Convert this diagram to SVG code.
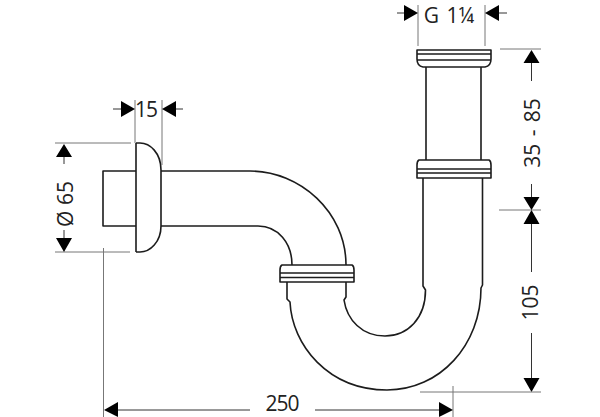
<svg xmlns="http://www.w3.org/2000/svg" width="600" height="417" viewBox="0 0 600 417">
<defs>
<style>
.p{fill:none;stroke:#1c1c1c;stroke-width:1.6;stroke-linejoin:round}
.d{fill:none;stroke:#333;stroke-width:1}
.e{fill:none;stroke:#777;stroke-width:1}
.a{fill:#000}
text{font-family:"Open Sans","Noto Sans",sans-serif;font-size:21px;fill:#222;text-anchor:middle}
</style>
</defs>
<rect width="600" height="417" fill="#fff"/>
<g id="trap">
<path class="p" d="M136 143V252M136 143H140C150 143 161 153 161 170V226C161 242 150 252 140 252H136"/>
<path class="p" d="M136 171H103V226H136"/>
<path class="p" d="M161 171H250C300 171 346 212 346 265"/>
<path class="p" d="M161 226H258C278 226 292 243 292 265"/>
<path class="p" d="M282 265H352Q354 266 354 270V282H280V270Q280 266 282 265ZM280 273H354M280 277.500H354"/>
<path class="p" d="M287 282V299L290 302C292 345 328 390 387 390C440 390 481 345 481 288L482.500 285V178"/>
<path class="p" d="M346 282V297L344 300C347 320 362 336 385 336C408 336 425.500 318 425.500 290L423 286V178"/>
<path class="p" d="M419 160H489Q491 161 491 165V178H417V165Q417 161 419 160ZM417 169H491M417 173H491"/>
<path class="p" d="M426 67V160M481 67V160"/>
<path class="p" d="M417 50H491V59Q491 66 485 67H423Q417 66 417 59ZM417 54H491M417 60H491"/>
</g>
<g id="dim-g">
<path class="e" d="M418 5V46M485 5V46"/>
<path class="d" d="M397 13H405M499 13H507"/>
<path class="a" d="M418 13L404 5V21ZM485 13L499 5V21Z"/>
<text x="449" y="23" word-spacing="2">G 1¼</text>
</g>
<g id="dim-15">
<path class="e" d="M135 100V143M162 100V165"/>
<path class="d" d="M113 109H121M176 109H183"/>
<path class="a" d="M135 109L121 101V117ZM162 109L176 101V117Z"/>
<text x="146" y="117" letter-spacing="-1">15</text>
</g>
<g id="dim-65">
<path class="e" d="M55 143H131M55 252H130"/>
<path class="d" d="M64 157V164M64 230V238"/>
<path class="a" d="M64 144L56 157H72ZM64 252L56 238H72Z"/>
<text transform="translate(73 204) rotate(-90)">Ø 65</text>
</g>
<g id="dim-35">
<path class="e" d="M500 49H541M499 210H541"/>
<path class="d" d="M531.500 63V81M531.500 184V198"/>
<path class="a" d="M531.500 50L523.500 63H539.500ZM531.500 210L523.500 197H539.500Z"/>
<text transform="translate(540 133) rotate(-90)" word-spacing="2">35 - 85</text>
</g>
<g id="dim-105">
<path class="d" d="M531.500 223V272M531.500 333V378"/>
<path class="a" d="M531.500 210L523.500 224H539.500ZM531.500 392L523.500 378H539.500Z"/>
<path class="e" d="M420 392H541"/>
<text transform="translate(538 302.500) rotate(-90)">105</text>
</g>
<g id="dim-250">
<path class="e" d="M103.500 248V417M453 386V417"/>
<path class="d" d="M118 410H250M315 410H439"/>
<path class="a" d="M104 410L118 402V417ZM453 410L439 402V417Z"/>
<text x="282" y="410.500" letter-spacing="-1">250</text>
</g>
</svg>
